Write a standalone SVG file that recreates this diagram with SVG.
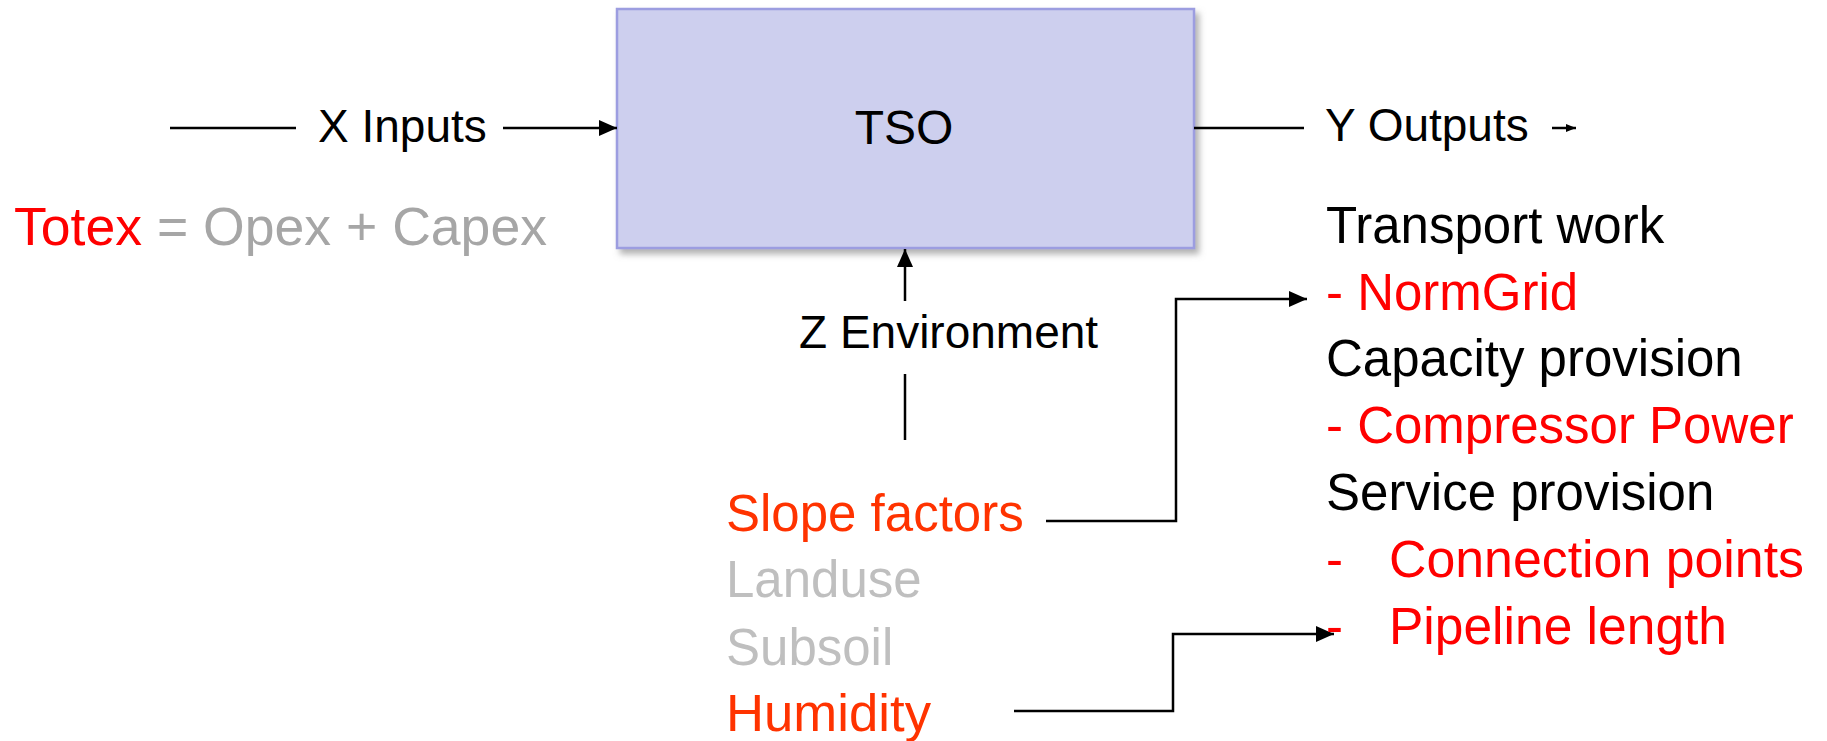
<svg xmlns="http://www.w3.org/2000/svg" width="1827" height="741" viewBox="0 0 1827 741">
<style>
text{font-family:"Liberation Sans",Arial,sans-serif;}
.blk{fill:#000000;}
.red{fill:#FF0000;}
.org{fill:#FF3300;}
.gry{fill:#A6A6A6;}
.lgr{fill:#BFBFBF;}
.ln{stroke:#000000;stroke-width:2.5;fill:none;}
</style>
<defs>
<filter id="sh" x="-5%" y="-5%" width="115%" height="120%">
<feDropShadow dx="4" dy="5" stdDeviation="3" flood-color="#7F7F7F" flood-opacity="0.6"/>
</filter>
<marker id="ah" markerUnits="userSpaceOnUse" markerWidth="18" markerHeight="16" refX="18" refY="8" orient="auto">
<path d="M0,0 L18,8 L0,16 Z" fill="#000000"/>
</marker>
<marker id="ahs" markerUnits="userSpaceOnUse" markerWidth="10" markerHeight="8" refX="10" refY="4" orient="auto">
<path d="M0,0 L10,4 L0,8 Z" fill="#000000"/>
</marker>
</defs>

<g id="tso">
<rect x="617" y="9" width="577" height="239" fill="#CDCFEE" stroke="#9C9DE0" stroke-width="2.5" filter="url(#sh)"/>
<text x="904" y="144" font-size="48" text-anchor="middle" class="blk">TSO</text>
</g>

<g id="connectors">
<line class="ln" x1="170" y1="128" x2="296" y2="128"/>
<line class="ln" x1="503" y1="128" x2="617" y2="128" marker-end="url(#ah)"/>
<line class="ln" x1="1194" y1="128" x2="1304" y2="128"/>
<line class="ln" x1="1552" y1="128" x2="1576" y2="128" marker-end="url(#ahs)"/>
<line class="ln" x1="905" y1="301" x2="905" y2="249" marker-end="url(#ah)"/>
<line class="ln" x1="905" y1="374" x2="905" y2="440"/>
<polyline class="ln" points="1046,521 1176,521 1176,299 1307,299" marker-end="url(#ah)"/>
<polyline class="ln" points="1014,711 1173,711 1173,634 1334,634" marker-end="url(#ah)"/>
</g>

<g id="inputs">
<text x="318" y="142" font-size="46" class="blk">X Inputs</text>
<text x="14" y="245" font-size="53" textLength="533" lengthAdjust="spacingAndGlyphs"><tspan class="red">Totex</tspan><tspan class="gry"> = Opex + Capex</tspan></text>
</g>

<g id="outputs">
<text x="1325" y="141" font-size="46" class="blk">Y Outputs</text>
<text x="1326" y="243" font-size="51" class="blk">Transport work</text>
<text x="1326" y="310" font-size="51" class="red">- NormGrid</text>
<text x="1326" y="376" font-size="51" class="blk">Capacity provision</text>
<text x="1326" y="443" font-size="51" class="red">- Compressor Power</text>
<text x="1326" y="510" font-size="51" class="blk">Service provision</text>
<text x="1326" y="577" font-size="51" class="red">-<tspan x="1389" textLength="415" lengthAdjust="spacingAndGlyphs">Connection points</tspan></text>
<text x="1326" y="644" font-size="51" class="red">-<tspan x="1389" textLength="338" lengthAdjust="spacingAndGlyphs">Pipeline length</tspan></text>
</g>

<g id="environment">
<text x="799" y="348" font-size="46" class="blk">Z Environment</text>
<text x="726" y="531" font-size="51" class="org">Slope factors</text>
<text x="726" y="597" font-size="51" class="lgr">Landuse</text>
<text x="726" y="665" font-size="51" class="lgr">Subsoil</text>
<text x="726" y="731" font-size="51" class="org" textLength="205" lengthAdjust="spacingAndGlyphs">Humidity</text>
</g>
</svg>
